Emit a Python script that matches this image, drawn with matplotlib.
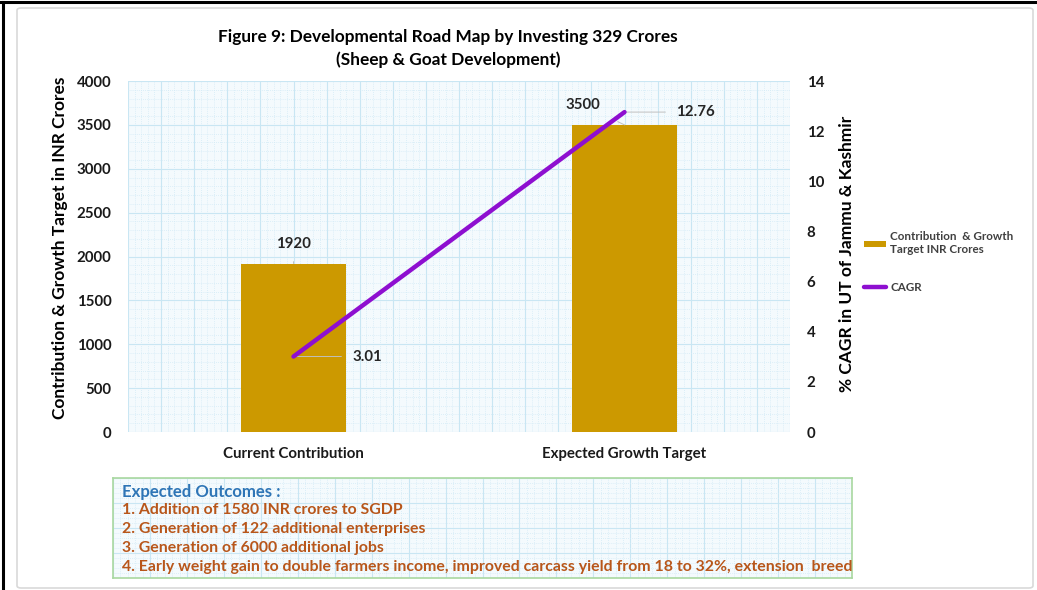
import matplotlib
matplotlib.use("Agg")
import matplotlib.pyplot as plt
from matplotlib.patches import FancyBboxPatch
from matplotlib.lines import Line2D
from matplotlib.ticker import MultipleLocator

categories = ["Current Contribution", "Expected Growth Target"]
contribution = [1920, 3500]
cagr = [3.01, 12.76]
left_ticks = [0, 500, 1000, 1500, 2000, 2500, 3000, 3500, 4000]
right_ticks = [0, 2, 4, 6, 8, 10, 12, 14]
outcomes_title = "Expected Outcomes :"
outcomes = [
    "1. Addition of 1580 INR crores to SGDP",
    "2. Generation of 122 additional enterprises",
    "3. Generation of 6000 additional jobs",
    "4. Early weight gain to double farmers income, improved carcass yield from 18 to 32%, extension  breeding coverage",
]

FONT = ["Lato", "DejaVu Sans"]
plt.rcParams["font.family"] = FONT
plt.rcParams["font.weight"] = "bold"

W, H = 1037, 590
fig = plt.figure(figsize=(W / 100, H / 100), dpi=100)
fig.patch.set_facecolor("white")
renderer = fig.canvas.get_renderer()


def fit(t, target_px, horizontal=True):
    bb = t.get_window_extent(renderer=renderer)
    cur = bb.width if horizontal else bb.height
    if cur > 0:
        t.set_fontsize(t.get_fontsize() * target_px / cur)


# outer decorations
fig.add_artist(FancyBboxPatch((17 / W, 2 / H), 1016 / W, 580 / H,
                              boxstyle="round,pad=0,rounding_size=0.004",
                              transform=fig.transFigure, fill=False,
                              edgecolor="#d9d9d9", linewidth=1.2))
fig.add_artist(Line2D([3 / W, 3 / W], [0, 1 - 2 / H], transform=fig.transFigure,
                      color="black", linewidth=2.2))
fig.add_artist(Line2D([0, 1], [1 - 2 / H, 1 - 2 / H], transform=fig.transFigure,
                      color="black", linewidth=2.2))

grid_bg = "#f4fafd"
major_c = "#c9e6f3"
minor_c = "#d3ebf6"


def pattern_grid(ax):
    ax.set_facecolor(grid_bg)
    ax.grid(which="major", color=major_c, linewidth=0.8, linestyle="-")
    ax.grid(which="minor", color=minor_c, linewidth=0.6, linestyle=(0, (1, 1.5)))
    ax.set_axisbelow(True)


ax = fig.add_axes([128 / W, 1 - 432 / H, 662 / W, 351 / H])
x = list(range(len(categories)))
ax.bar(x, contribution, width=0.315, color="#cc9900", zorder=3,
       label="Contribution  & Growth\nTarget INR Crores")
ax.set_xlim(-0.5, 1.5)
ax.set_ylim(0, 4000)
ax.set_yticks(left_ticks)
ax.set_xticks(x)
ax.set_xticklabels(categories, fontweight="bold")
ax.tick_params(axis="y", length=0, labelsize=10.8, pad=12, labelcolor="#1a1a1a")
ax.tick_params(axis="x", length=0, labelsize=10.8, pad=11, labelcolor="#1a1a1a")
for s in ax.spines.values():
    s.set_visible(False)

bg = fig.add_axes(ax.get_position(), zorder=-1)
bg.set_xlim(0, 1)
bg.set_ylim(0, 1)
bg.xaxis.set_major_locator(MultipleLocator(0.05))
bg.xaxis.set_minor_locator(MultipleLocator(0.01))
bg.yaxis.set_major_locator(MultipleLocator(0.125))
bg.yaxis.set_minor_locator(MultipleLocator(0.025))
pattern_grid(bg)
bg.tick_params(which="both", length=0, labelbottom=False, labelleft=False)
for s in bg.spines.values():
    s.set_visible(False)
ax.patch.set_visible(False)

ax2 = ax.twinx()
ax2.plot(x, cagr, color="#8e0fd0", linewidth=3.2, zorder=5, label="CAGR",
         solid_capstyle="round")
ax2.set_ylim(0, 14)
ax2.set_yticks(right_ticks)
ax2.tick_params(axis="y", length=0, labelsize=10.8, pad=12, labelcolor="#1a1a1a")
for s in ax2.spines.values():
    s.set_visible(False)

# axis titles placed in figure pixels
yl = fig.text(60 / W, 1 - 248 / H, "Contribution & Growth Target in INR Crores",
              rotation=90, ha="center", va="center", fontsize=12, fontweight="bold")
fit(yl, 340, horizontal=False)
yr = fig.text(847 / W, 1 - 254 / H, "% CAGR in UT of Jammu & Kashmir",
              rotation=90, ha="center", va="center", fontsize=12, fontweight="bold")
fit(yr, 276, horizontal=False)

# data labels with leader lines
lab_kw = dict(fontsize=10.8, fontweight="bold", color="#262626")
lead = dict(arrowstyle="-", color="#c0c0c0", lw=0.7, shrinkA=0, shrinkB=0)
ax.annotate(str(contribution[0]), xy=(x[0], contribution[0]), xytext=(0, 20),
            textcoords="offset pixels", ha="center", va="center",
            arrowprops=dict(lead, shrinkA=6), **lab_kw)
ax.annotate(str(contribution[1]), xy=(x[1], contribution[1]), xytext=(-42, 20),
            textcoords="offset pixels", ha="center", va="center",
            arrowprops=dict(lead, shrinkA=12), **lab_kw)
ax2.annotate(f"{cagr[0]:.2f}", xy=(x[0], cagr[0]), xytext=(59, 0),
             textcoords="offset pixels", ha="left", va="center",
             arrowprops=dict(lead, relpos=(0, 0.5), shrinkA=6), **lab_kw)
ax2.annotate(f"{cagr[1]:.2f}", xy=(x[1], cagr[1]), xytext=(52, 0),
             textcoords="offset pixels", ha="left", va="center",
             arrowprops=dict(lead, relpos=(0, 0.5), shrinkA=6), **lab_kw)

# legend
h1, l1 = ax.get_legend_handles_labels()
h2, l2 = ax2.get_legend_handles_labels()
leg = fig.legend(h1 + h2, l1 + l2, loc="upper left",
                 bbox_to_anchor=(853 / W, 1 - 221 / H), frameon=False,
                 fontsize=8.4, handlelength=1.9, handleheight=0.45,
                 labelspacing=2.3, handletextpad=0.4)
for t in leg.get_texts():
    t.set_fontweight("bold")
    t.set_color("#404040")

# title
t1 = fig.text(448 / W, 1 - 37 / H, "Figure 9: Developmental Road Map by Investing 329 Crores",
              ha="center", va="center", fontsize=14, fontweight="bold")
fit(t1, 461)
t2 = fig.text(448 / W, 1 - 60 / H, "(Sheep & Goat Development)", ha="center",
              va="center", fontsize=t1.get_fontsize(), fontweight="bold")

# outcomes box
bx = fig.add_axes([113 / W, 1 - 578 / H, 739 / W, 100 / H])
bx.set_xlim(0, 1)
bx.set_ylim(0, 1)
bx.xaxis.set_major_locator(MultipleLocator(0.05))
bx.xaxis.set_minor_locator(MultipleLocator(0.01))
bx.yaxis.set_major_locator(MultipleLocator(0.25))
bx.yaxis.set_minor_locator(MultipleLocator(0.05))
pattern_grid(bx)
bx.tick_params(which="both", length=0, labelbottom=False, labelleft=False)
for s in bx.spines.values():
    s.set_color("#a9d8a0")
    s.set_linewidth(1.2)
tt = bx.text(9 / 739, 1 - 14 / 100, outcomes_title, transform=bx.transAxes,
             color="#2e75b6", fontsize=10, fontweight="bold", va="center", ha="left")
fit(tt, 160)
lines = []
for i, line in enumerate(outcomes):
    t = bx.text(9 / 739, 1 - (32 + 19 * i) / 100, line, transform=bx.transAxes,
                color="#b8561a", fontsize=10, fontweight="bold", va="center",
                ha="left", clip_on=True)
    lines.append(t)
fit(lines[0], 281)
for t in lines[1:]:
    t.set_fontsize(lines[0].get_fontsize())

fig.savefig("out.png", dpi=100, facecolor="white")
